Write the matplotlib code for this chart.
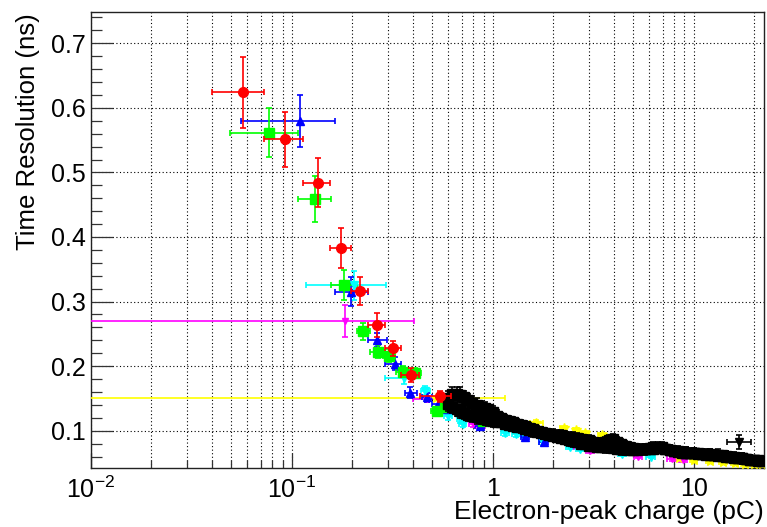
import matplotlib
matplotlib.use("Agg")
import matplotlib.pyplot as plt
from matplotlib.ticker import MultipleLocator, FixedLocator, NullFormatter, FixedFormatter, FormatStrFormatter

plt.rcParams['font.family'] = ['Liberation Sans', 'DejaVu Sans']
plt.rcParams['mathtext.fontset'] = 'custom'
plt.rcParams['mathtext.rm'] = 'Liberation Sans'
plt.rcParams['mathtext.it'] = 'Liberation Sans:italic'
plt.rcParams['mathtext.bf'] = 'Liberation Sans:bold'

# ---------------- data ----------------
red_x = [0.0574, 0.0929, 0.1344, 0.1757, 0.2175, 0.2655, 0.317, 0.39, 0.5435]
red_y = [0.624, 0.551, 0.484, 0.383, 0.316, 0.264, 0.2276, 0.186, 0.153]
red_xlo = [0.0402, 0.073, 0.113, 0.155, 0.198, 0.24, 0.29, 0.35, 0.435]
red_xhi = [0.073, 0.113, 0.154, 0.198, 0.24, 0.29, 0.35, 0.43, 0.62]
red_yerr = [0.055, 0.043, 0.038, 0.031, 0.022, 0.019, 0.012, 0.011, 0.008]

green_x = [0.0773, 0.1299, 0.181, 0.226, 0.2685, 0.303, 0.356, 0.411, 0.527, 0.58, 0.89]
green_y = [0.5616, 0.4586, 0.326, 0.254, 0.2225, 0.216, 0.1915, 0.189, 0.130, 0.136, 0.115]
green_xlo = [0.049, 0.107, 0.157, 0.212, 0.245, 0.285, 0.33, 0.38, 0.49, 0.55, 0.85]
green_xhi = [0.107, 0.157, 0.212, 0.245, 0.29, 0.325, 0.385, 0.44, 0.56, 0.61, 0.93]
green_yerr = [0.038, 0.036, 0.023, 0.013, 0.010, 0.010, 0.008, 0.008, 0.006, 0.006, 0.005]

blue_x = [0.1093, 0.198, 0.2655, 0.327, 0.389, 0.47, 0.531, 0.59, 0.614, 0.86, 1.45, 1.79]
blue_y = [0.580, 0.3155, 0.2406, 0.2034, 0.159, 0.152, 0.142, 0.133, 0.136, 0.108, 0.090, 0.082]
blue_xlo = [0.0559, 0.164, 0.238, 0.291, 0.367, 0.445, 0.50, 0.56, 0.58, 0.82, 1.38, 1.70]
blue_xhi = [0.164, 0.238, 0.298, 0.35, 0.42, 0.50, 0.56, 0.62, 0.65, 0.90, 1.52, 1.88]
blue_yerr = [0.040, 0.022, 0.011, 0.010, 0.008, 0.007, 0.006, 0.006, 0.006, 0.005, 0.004, 0.004]

cyan_x = [0.203, 0.36, 0.461, 0.60, 0.69, 0.71, 1.15, 1.30, 1.45, 1.78, 2.43, 2.73, 4.4, 6.1]
cyan_y = [0.325, 0.181, 0.162, 0.123, 0.118, 0.110, 0.097, 0.095, 0.092, 0.082, 0.075, 0.072, 0.064, 0.060]
cyan_xlo = [0.118, 0.29, 0.44, 0.57, 0.66, 0.68, 1.10, 1.24, 1.38, 1.70, 2.32, 2.60, 4.2, 5.8]
cyan_xhi = [0.293, 0.40, 0.485, 0.63, 0.72, 0.74, 1.20, 1.36, 1.52, 1.86, 2.54, 2.86, 4.6, 6.4]
cyan_yerr = [0.022, 0.008, 0.007, 0.006, 0.006, 0.005, 0.005, 0.005, 0.004, 0.004, 0.004, 0.004, 0.003, 0.003]

magenta_x = [0.1846, 0.47, 0.80, 0.87, 2.5, 3.05, 5.3, 7.8, 8.9]
magenta_y = [0.2695, 0.149, 0.110, 0.107, 0.077, 0.069, 0.060, 0.056, 0.055]
magenta_xlo = [0.005, 0.40, 0.76, 0.83, 2.4, 2.9, 5.05, 7.4, 8.5]
magenta_xhi = [0.404, 0.55, 0.84, 0.91, 2.6, 3.2, 5.55, 8.2, 9.3]
magenta_yerr = [0.025, 0.004, 0.004, 0.004, 0.003, 0.003, 0.003, 0.003, 0.003]

yellow_x = [0.52, 1.65, 2.25, 2.6, 2.88, 3.5, 8.5, 10.0, 12.0, 14.0, 16.0, 18.0, 20.0, 22.0]
yellow_y = [0.1507, 0.112, 0.104, 0.101, 0.097, 0.093, 0.057, 0.055, 0.053, 0.051, 0.050, 0.049, 0.048, 0.048]
yellow_xlo = [0.005, 1.53, 2.15, 2.5, 2.76, 3.35, 8.1, 9.6, 11.5, 13.4, 15.3, 17.2, 19.1, 21.0]
yellow_xhi = [1.145, 1.78, 2.35, 2.7, 3.0, 3.65, 8.9, 10.4, 12.5, 14.6, 16.7, 18.8, 20.9, 23.0]
yellow_yerr = [0.002, 0.004, 0.004, 0.003, 0.003, 0.003, 0.003, 0.003, 0.003, 0.003, 0.003, 0.003, 0.003, 0.003]

black_x = [0.60, 0.63, 0.66, 0.69, 0.72, 0.75, 0.79, 0.83, 0.87, 0.91, 0.95, 1.00,
           1.05, 1.10, 1.15, 1.20, 1.26, 1.32, 1.38, 1.45, 1.52, 1.59, 1.66, 1.74,
           1.82, 1.91, 2.00, 2.09, 2.19, 2.29, 2.40, 2.51, 2.63, 2.75, 2.88, 3.02,
           3.16, 3.31, 3.47, 3.63, 3.80, 3.98, 4.17, 4.37, 4.57, 4.79, 5.01, 5.25,
           5.50, 5.75, 6.03, 6.31, 6.61, 6.92, 7.24, 7.59, 7.94, 8.32, 8.71, 9.12,
           9.55, 10.0, 10.5, 11.0, 11.5, 12.0, 12.6, 13.2, 13.8, 14.5, 15.1, 15.8,
           16.6, 17.4, 18.2, 19.1, 20.0, 20.9, 21.9]
black_hi_y = [0.151, 0.157, 0.157, 0.156, 0.152, 0.147, 0.143, 0.140, 0.137, 0.135, 0.133, 0.129,
              0.123, 0.120, 0.117, 0.115, 0.113, 0.110, 0.109, 0.107, 0.104, 0.102, 0.100, 0.098,
              0.096, 0.095, 0.094, 0.093, 0.093, 0.091, 0.090, 0.089, 0.088, 0.087, 0.086, 0.085,
              0.083, 0.081, 0.080, 0.082, 0.085, 0.087, 0.083, 0.079, 0.076, 0.074, 0.073, 0.072,
              0.072, 0.072, 0.073, 0.074, 0.075, 0.074, 0.072, 0.070, 0.069, 0.068, 0.067, 0.066,
              0.066, 0.065, 0.065, 0.064, 0.064, 0.064, 0.063, 0.063, 0.062, 0.061, 0.060, 0.059,
              0.058, 0.057, 0.056, 0.055, 0.054, 0.053, 0.053]
black_lo_y = [0.141, 0.137, 0.134, 0.131, 0.128, 0.125, 0.123, 0.121, 0.119, 0.118, 0.117, 0.115,
              0.114, 0.113, 0.111, 0.109, 0.107, 0.106, 0.105, 0.103, 0.101, 0.099, 0.098, 0.097,
              0.095, 0.093, 0.092, 0.090, 0.089, 0.087, 0.085, 0.084, 0.082, 0.080, 0.079, 0.077,
              0.076, 0.075, 0.075, 0.074, 0.074, 0.073, 0.072, 0.071, 0.071, 0.070, 0.070, 0.070,
              0.071, 0.071, 0.072, 0.072, 0.073, 0.073, 0.071, 0.070, 0.068, 0.067, 0.066, 0.066,
              0.065, 0.065, 0.064, 0.064, 0.063, 0.063, 0.062, 0.061, 0.061, 0.060, 0.059, 0.058,
              0.057, 0.057, 0.056, 0.055, 0.054, 0.054, 0.053]
black_yerr = [0.010, 0.010, 0.011, 0.011, 0.010, 0.010, 0.010, 0.010, 0.009, 0.009, 0.009, 0.009,
              0.009, 0.008, 0.008, 0.008, 0.008, 0.008, 0.008, 0.008, 0.008, 0.008, 0.008, 0.008,
              0.008, 0.008, 0.008, 0.008, 0.008, 0.008, 0.008, 0.009, 0.008, 0.008, 0.008, 0.009,
              0.008, 0.008, 0.008, 0.008, 0.008, 0.008, 0.008, 0.008, 0.008, 0.008, 0.008, 0.008,
              0.007, 0.008, 0.007, 0.008, 0.008, 0.008, 0.007, 0.008, 0.007, 0.008, 0.007, 0.008,
              0.007, 0.008, 0.007, 0.008, 0.007, 0.008, 0.007, 0.008, 0.007, 0.008, 0.007, 0.008,
              0.007, 0.008, 0.007, 0.007, 0.007, 0.007, 0.007]

single_x = [16.9]
single_y = [0.082]
single_xlo = [14.6]
single_xhi = [19.2]
single_yerr = [0.011]

xticks = [0.01, 0.1, 1, 10]
xtick_labels = ['$10^{-2}$', '$10^{-1}$', '1', '10']

# ---------------- figure ----------------
W, H = 767, 527
fig = plt.figure(figsize=(W / 100, H / 100), dpi=100)
ax = fig.add_axes([91 / W, 1 - 467.5 / H, (764 - 91) / W, (467.5 - 12.3) / H])

ax.set_xscale('log')
ax.set_xlim(0.01, 22.4)
ax.set_ylim(0.043, 0.748)


def draw(x, y, xlo, xhi, yerr, color, marker, ms, z):
    xerr = [[xi - lo for xi, lo in zip(x, xlo)], [hi - xi for xi, hi in zip(x, xhi)]]
    ax.errorbar(x, y, xerr=xerr, yerr=yerr, fmt=marker, color=color, ms=ms,
                mec=color, mfc=color, elinewidth=1.2, capsize=2.5, capthick=1.2,
                zorder=z)


draw(yellow_x, yellow_y, yellow_xlo, yellow_xhi, yellow_yerr, '#ffff00', '*', 7.5, 3)
draw(magenta_x, magenta_y, magenta_xlo, magenta_xhi, magenta_yerr, '#ff00ff', 'v', 5, 3)
draw(cyan_x, cyan_y, cyan_xlo, cyan_xhi, cyan_yerr, '#00ffff', 'v', 5.5, 3)
draw(blue_x, blue_y, blue_xlo, blue_xhi, blue_yerr, '#0000ff', '^', 5.5, 3)
draw(green_x, green_y, green_xlo, green_xhi, green_yerr, '#00ff00', 's', 6.5, 3)

# black band drawn on top of the coloured tails
for by in (black_hi_y, black_lo_y):
    ax.errorbar(black_x, by, yerr=black_yerr, fmt='s', color='black', ms=7.5,
                elinewidth=1.2, capsize=2, capthick=1.2, zorder=4)
draw(single_x, single_y, single_xlo, single_xhi, single_yerr, 'black', 'v', 5.5, 5)
draw(red_x, red_y, red_xlo, red_xhi, red_yerr, '#ff0000', 'o', 7, 5)

# axes styling
ax.set_axisbelow(True)
ax.xaxis.set_major_locator(FixedLocator(xticks))
ax.xaxis.set_major_formatter(FixedFormatter(xtick_labels))
ax.xaxis.set_minor_formatter(NullFormatter())
ax.yaxis.set_major_locator(MultipleLocator(0.1))
ax.yaxis.set_minor_locator(MultipleLocator(0.02))
ax.yaxis.set_major_formatter(FormatStrFormatter('%.1f'))

ax.grid(True, which='both', axis='x', color='black', linestyle=(0, (1, 2.2)), linewidth=0.8)
ax.grid(True, which='major', axis='y', color='black', linestyle=(0, (1, 2.2)), linewidth=0.8)

ax.tick_params(axis='y', which='major', direction='in', length=15.5, width=0.9,
               labelsize=18, pad=4, right=False, color='#333333')
ax.tick_params(axis='y', which='minor', direction='in', length=8, width=0.9,
               right=False, color='#333333')
ax.tick_params(axis='x', which='major', direction='in', length=10.5, width=0.9,
               labelsize=18, pad=6.5, top=False, color='#333333')
ax.tick_params(axis='x', which='minor', direction='in', length=5.5, width=0.9,
               top=False, color='#333333')
for s in ax.spines.values():
    s.set_linewidth(1.0)
    s.set_color('#222222')

fig.text(28.5 / W, 1 - 13 / H, 'Time Resolution (ns)', rotation=90,
         ha='center', va='top', fontsize=18.5)
fig.text(764 / W, 1 - 519.5 / H, 'Electron-peak charge (pC)', ha='right',
         va='baseline', fontsize=19)

fig.savefig('out.png', dpi=100)
